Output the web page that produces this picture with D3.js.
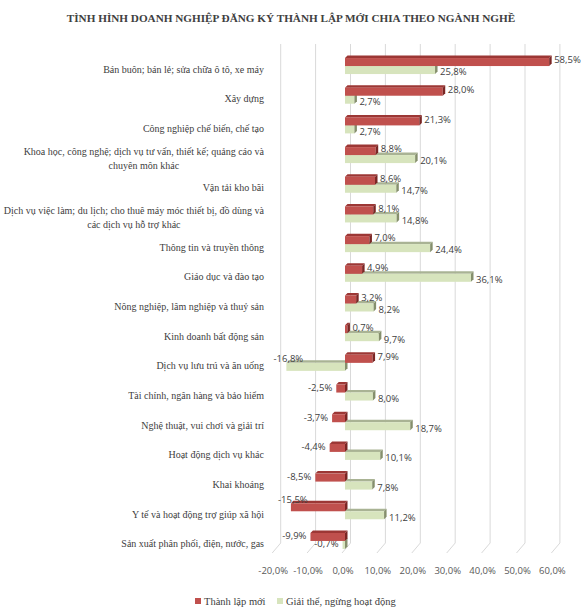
<!DOCTYPE html>
<html>
<head>
<meta charset="utf-8">
<script src="https://cdn.jsdelivr.net/npm/d3@7"></script>
<style>
body { margin: 0; background: #fff; }
</style>
</head>
<body>
<svg></svg>
<script>
var categories = [
    ["Bán buôn; bán lẻ; sửa chữa ô tô, xe máy"],
    ["Xây dựng"],
    ["Công nghiệp  chế biến, chế tạo"],
    ["Khoa học, công nghệ; dịch vụ tư vấn, thiết kế; quảng cáo và", "chuyên môn khác"],
    ["Vận tải kho bãi"],
    ["Dịch vụ việc làm; du lịch; cho thuê máy móc thiết bị, đồ dùng và", "các dịch vụ hỗ trợ khác"],
    ["Thông tin và truyền thông"],
    ["Giáo dục và đào tạo"],
    ["Nông nghiệp, lâm nghiệp và thuỷ sản"],
    ["Kinh doanh bất động sản"],
    ["Dịch vụ lưu trú và ăn uống"],
    ["Tài chính, ngân hàng và bảo hiểm"],
    ["Nghệ thuật, vui chơi và giải trí"],
    ["Hoạt động dịch vụ khác"],
    ["Khai khoáng"],
    ["Y tế và hoạt động trợ giúp xã hội"],
    ["Sản xuất phân phối, điện, nước, gas"]
]
var newVals = [58.5, 28.0, 21.3, 8.8, 8.6, 8.1, 7.0, 4.9, 3.2, 0.7, 7.9, -2.5, -3.7, -4.4, -8.5, -15.5, -9.9]
var closedVals = [25.8, 2.7, 2.7, 20.1, 14.7, 14.8, 24.4, 36.1, 8.2, 9.7, -16.8, 8.0, 18.7, 10.1, 7.8, 11.2, -0.7]
var ticks = [-20, -10, 0, 10, 20, 30, 40, 50, 60]
var seriesNames = ["Thành lập mới", "Giải thể, ngừng hoạt động"]

var screen = {width: 588, height: 615}
var serif = "'Liberation Serif', 'Times New Roman', serif"
var sans = "'Open Sans', 'Liberation Sans', sans-serif"

var vn = d3.formatLocale({decimal: ",", thousands: ".", grouping: [3], currency: ["", ""], minus: "-"})
var fmt = function(v){ return vn.format(".1f")(v) + "%" }

var svg = d3.select("svg")
    .attr("width", screen.width)
    .attr("height", screen.height)

svg.append("text")
    .attr("x", 291).attr("y", 22)
    .attr("text-anchor", "middle")
    .style("font-family", serif)
    .style("font-weight", "bold")
    .style("font-size", "11.2px")
    .style("fill", "#404040")
    .text("TÌNH HÌNH DOANH NGHIỆP ĐĂNG KÝ THÀNH LẬP MỚI CHIA THEO NGÀNH NGHỀ")

var xScale = d3.scaleLinear().domain([-20, 60]).range([275.2, 554.4])
var yScale = d3.scaleBand().domain(d3.range(categories.length)).range([54.2, 558.8])
var cy = function(i){ return yScale(i) + yScale.bandwidth() / 2 }

var wallTop = 44, wallBottom = 543, floorFront = 553
var labelRight = 264

// 3d grid: back wall lines and floor slant
var grid = svg.append("g").attr("id", "grid")
grid.selectAll("path")
    .data(ticks)
    .enter()
    .append("path")
    .attr("d", function(t){
        var x = xScale(t)
        return "M" + (x + 5.5) + "," + wallTop + "L" + (x + 5.5) + "," + wallBottom + "L" + (x - 3) + "," + floorFront
    })
    .attr("fill", "none")
    .attr("stroke", "#d9d9d9")
    .attr("stroke-width", 1)

grid.selectAll("text")
    .data(ticks)
    .enter()
    .append("text")
    .attr("x", function(t){ return xScale(t) - 2 })
    .attr("y", 574)
    .attr("text-anchor", "middle")
    .style("font-family", sans)
    .style("font-size", "9.5px")
    .style("fill", "#595959")
    .text(function(t){ return fmt(t) })

// category labels
var labels = svg.append("g").attr("id", "labels")
categories.forEach(function(lines, i){
    var t = labels.append("text")
        .attr("y", cy(i) - (lines.length - 1) * 7)
        .style("font-family", serif)
        .style("font-size", "10px")
        .style("fill", "#404040")
    lines.forEach(function(line, k){
        t.append("tspan")
            .attr("x", labelRight)
            .attr("dy", k == 0 ? "0.35em" : "14")
            .text(line)
    })
    if (lines.length > 1) {
        // second line centered under the first one, like excel
        var first = t.select("tspan").node().getComputedTextLength()
        t.selectAll("tspan").each(function(){
            var w = this.getComputedTextLength()
            d3.select(this).attr("x", labelRight - first + (first - w) / 2)
        })
    } else {
        t.attr("text-anchor", "end")
    }
})

// bars
var depth = 2.5, barH = 8
var colors = [
    {front: "#c0504d", top: "#9c3735", side: "#7a2624"},
    {front: "#d7e4bd", top: "#a9b394", side: "#858f6c"}
]

var drawBars = function(values, s, offset){
    var g = svg.append("g").attr("class", "series" + s)
    var bar = g.selectAll("g")
        .data(values)
        .enter()
        .append("g")
    var xa = function(v){ return xScale(Math.min(0, v)) }
    var xb = function(v){ return xScale(Math.max(0, v)) }
    var top = function(i){ return cy(i) + offset }

    bar.append("path")
        .attr("d", function(v, i){
            var y = top(i)
            return "M" + xa(v) + "," + y + "L" + (xa(v) + depth) + "," + (y - depth) +
                "L" + (xb(v) + depth) + "," + (y - depth) + "L" + xb(v) + "," + y + "Z"
        })
        .attr("fill", colors[s].top)
    bar.append("rect")
        .attr("x", function(v){ return xa(v) })
        .attr("y", function(v, i){ return top(i) })
        .attr("width", function(v){ return xb(v) - xa(v) })
        .attr("height", barH)
        .attr("fill", colors[s].front)
    bar.append("path")
        .attr("d", function(v, i){
            var y = top(i), x = xb(v)
            return "M" + x + "," + y + "L" + (x + depth) + "," + (y - depth) +
                "L" + (x + depth) + "," + (y + barH - depth) + "L" + x + "," + (y + barH) + "Z"
        })
        .attr("fill", colors[s].side)

    var lab = bar.append("text")
        .attr("dy", "0.35em")
        .style("font-family", sans)
        .style("font-size", "9.5px")
        .style("fill", "#404040")
        .text(function(v){ return fmt(v) })

    lab.each(function(v, i){
        var el = d3.select(this)
        var w = this.getComputedTextLength()
        if (v >= 0) {
            el.attr("x", xb(v) + depth + 2.5)
                .attr("y", top(i) + barH / 2 + (s == 0 ? -2 : 2))
        } else if (xa(v) - 4 - w > labelRight + 8) {
            el.attr("x", xa(v) - 4).attr("text-anchor", "end")
                .attr("y", top(i) + barH / 2 - 1)
        } else {
            // no room beside the category text: lift it over the bar end
            el.attr("x", xa(v) + 2).attr("text-anchor", "middle")
                .attr("y", top(i) - 4)
        }
    })
}

drawBars(closedVals, 1, -3)
drawBars(newVals, 0, -11)

// legend
var legend = svg.append("g").attr("id", "legend")
var legendX = [195, 277]
seriesNames.forEach(function(name, s){
    legend.append("rect")
        .attr("x", legendX[s]).attr("y", 598)
        .attr("width", 6).attr("height", 6)
        .attr("fill", colors[s].front)
    legend.append("text")
        .attr("x", legendX[s] + 9).attr("y", 601)
        .attr("dy", "0.35em")
        .style("font-family", serif)
        .style("font-size", "10.5px")
        .style("fill", "#404040")
        .text(name)
})
</script>
</body>
</html>
